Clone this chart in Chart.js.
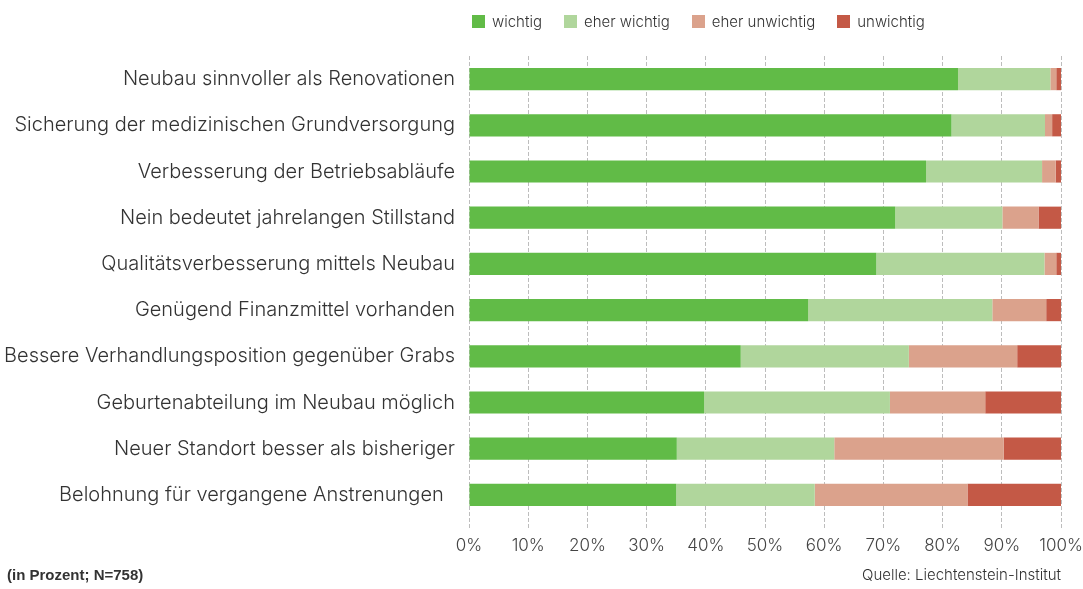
<!DOCTYPE html>
<html lang="de">
<head>
<meta charset="utf-8">
<title>Wichtigkeit der Argumente</title>
<script src="https://cdn.jsdelivr.net/npm/chart.js@4.4.1/dist/chart.umd.min.js"></script>
<style>
    html, body { margin: 0; padding: 0; background: #fff; }
    #wrap { position: relative; width: 1083px; height: 589px; overflow: hidden; }
    #chart { position: absolute; left: 0; top: 0; }
    #legend { position: absolute; left: 472px; top: 12px; display: flex; font: 300 15px Inter, sans-serif; color: #333; }
    #legend .item { display: flex; align-items: center; margin-right: 22px; }
    #legend .box { width: 13px; height: 13px; margin-right: 7px; }
    #note { position: absolute; left: 7px; top: 566px; font: bold 15px "Liberation Sans", Arial, sans-serif; color: #333; }
    #source { position: absolute; right: 22px; top: 565px; font: 300 15px Inter, sans-serif; color: #333; }
</style>
</head>
<body>
<div id="wrap">
    <canvas id="chart" width="1083" height="589"></canvas>
    <div id="legend"></div>
    <div id="note">(in Prozent; N=758)</div>
    <div id="source">Quelle: Liechtenstein-Institut</div>
</div>
<script>
// ── DATA ──────────────────────────────────────────────────────────────────────
const CATEGORIES = [
    'Neubau sinnvoller als Renovationen',
    'Sicherung der medizinischen Grundversorgung',
    'Verbesserung der Betriebsabläufe',
    'Nein bedeutet jahrelangen Stillstand',
    'Qualitätsverbesserung mittels Neubau',
    'Genügend Finanzmittel vorhanden',
    'Bessere Verhandlungsposition gegenüber Grabs',
    'Geburtenabteilung im Neubau möglich',
    'Neuer Standort besser als bisheriger',
    'Belohnung für vergangene Anstrenungen\u00a0\u00a0',
];

const SERIES_LABELS = ['wichtig', 'eher wichtig', 'eher unwichtig', 'unwichtig'];
const SERIES_COLORS = ['#61bb47', '#b0d69c', '#dba28c', '#c45946'];

const WICHTIG        = [82.6, 81.5, 77.2, 72.0, 68.8, 57.3, 45.9, 39.7, 35.1, 35.0];
const EHER_WICHTIG   = [15.6, 15.8, 19.6, 18.1, 28.4, 31.1, 28.4, 31.4, 26.6, 23.4];
const EHER_UNWICHTIG = [ 1.0,  1.2,  2.3,  6.1,  2.0,  9.1, 18.3, 16.1, 28.6, 25.8];
const UNWICHTIG      = [ 0.8,  1.5,  0.9,  3.8,  0.8,  2.5,  7.4, 12.8,  9.7, 15.8];

const X_TICKS = [0, 10, 20, 30, 40, 50, 60, 70, 80, 90, 100];

const SERIES_VALUES = [WICHTIG, EHER_WICHTIG, EHER_UNWICHTIG, UNWICHTIG];

// ── LEGEND (html) ─────────────────────────────────────────────────────────────
const legendEl = document.getElementById('legend');
SERIES_LABELS.forEach((label, i) => {
    const item = document.createElement('div');
    item.className = 'item';
    const box = document.createElement('span');
    box.className = 'box';
    box.style.background = SERIES_COLORS[i];
    const txt = document.createElement('span');
    txt.textContent = label;
    item.appendChild(box);
    item.appendChild(txt);
    legendEl.appendChild(item);
});

// ── CHART ─────────────────────────────────────────────────────────────────────
new Chart(document.getElementById('chart'), {
    type: 'bar',
    data: {
        labels: CATEGORIES,
        datasets: SERIES_LABELS.map((label, i) => ({
            label,
            data: SERIES_VALUES[i],
            backgroundColor: SERIES_COLORS[i],
            borderWidth: 0,
            categoryPercentage: 1,
            barPercentage: 0.48,
        })),
    },
    options: {
        indexAxis: 'y',
        responsive: false,
        animation: false,
        layout: { padding: { top: 56, right: 22, bottom: 0, left: 0 } },
        plugins: {
            legend: { display: false },
            tooltip: { enabled: false },
        },
        scales: {
            x: {
                stacked: true,
                min: 0,
                max: 100,
                afterBuildTicks: s => { s.ticks = X_TICKS.map(v => ({ value: v })); },
                afterFit: s => {
                    s.height = 71;
                    // let the "100%" label run off the edge like the original
                    s.paddingLeft = 0;
                    s.paddingRight = 0;
                },
                grid: {
                    color: '#bdbdbd',
                    lineWidth: 1,
                    tickLength: 10,
                    tickColor: '#bdbdbd',
                    tickBorderDash: [4, 2],
                    drawTicks: true,
                },
                border: { display: false, dash: [4, 2] },
                ticks: {
                    callback: v => v + '%',
                    color: '#444',
                    padding: 8,
                    font: { family: 'Inter', size: 17, weight: 300 },
                    maxRotation: 0,
                },
            },
            y: {
                stacked: true,
                afterFit: s => { s.width = 469; },
                grid: { display: false, drawTicks: false },
                border: { display: false },
                ticks: {
                    color: '#333',
                    padding: 14,
                    font: { family: 'Inter', size: 20, weight: 300 },
                },
            },
        },
    },
});
</script>
</body>
</html>
